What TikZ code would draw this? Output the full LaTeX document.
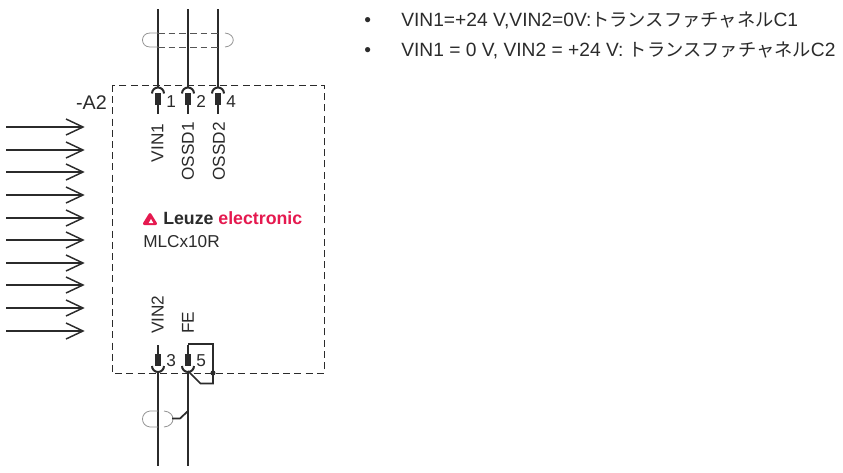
\documentclass[tikz,border=0pt]{standalone}
\usepackage{fontspec}
\setmainfont{Liberation Sans}
\newfontfamily\cjk{Noto Sans CJK JP}
\definecolor{ink}{HTML}{2B2B2B}
\definecolor{leuze}{HTML}{E5194F}
\tikzset{
  x=0.75pt,y=-0.75pt,
  wire/.style={draw=ink,line width=1.5pt},
  thinw/.style={draw=ink,line width=1.3pt},
  dashb/.style={draw=ink,line width=0.6pt,dash pattern=on 5.2pt off 3.2pt},
  shield/.style={draw=ink!80,line width=0.7pt,dash pattern=on 5pt off 3pt},
  shieldarc/.style={draw=ink!50,line width=0.6pt},
  pinbody/.style={fill=ink,draw=none,minimum width=4.6pt,minimum height=8.6pt,inner sep=0pt},
  lab/.style={font=\fontsize{12.9pt}{15pt}\selectfont,text=ink,inner sep=0pt},
  note/.style={font=\fontsize{14.4pt}{17pt}\selectfont,text=ink,inner sep=0pt,anchor=base west},
  ray/.style={draw=ink,line width=1.1pt},
}
\begin{document}
\begin{tikzpicture}
\useasboundingbox (0,0) rectangle (843,472);
\fill[white] (0,0) rectangle (843,472);
% housing
\coordinate (boxnw) at (112,85);
\coordinate (boxse) at (324,373);
\draw[dashb] (boxnw) rectangle (boxse);
% top terminals
\foreach \n/\x/\t in {a/158/1,b/188/2,c/218/4}{
  \coordinate (top\n) at (\x,9);
  \node[pinbody] (pin\n) at (\x,99) {};
  \coordinate (stub\n) at (\x,114);
  \draw[wire] (top\n) -- (\x,87);
  \draw[wire] (pin\n.south) -- (stub\n);
  \draw[wire] (\x-6,93.5) arc[start angle=180,end angle=360,radius=6];
  \node[lab,anchor=west] (num\n) at (\x+8,101.5) {\t};
}
% top shield
\coordinate (sl1) at (158,33); \coordinate (sl2) at (158,47);
\coordinate (sr1) at (218,33); \coordinate (sr2) at (218,47);
\draw[shield] (sl1) -- (sr1);
\draw[shield] (sl2) -- (sr2);
\draw[shieldarc] (sl1) -- (150,33) .. controls (140,33) and (140,47) .. (150,47) -- (sl2);
\draw[shieldarc] (225,33) .. controls (236,34) and (236,46) .. (225,47);
% vertical labels
\node[lab,rotate=90,anchor=east] (lv1) at (157.5,123.5) {VIN1};
\node[lab,rotate=90,anchor=east] (lo1) at (188,122) {OSSD1};
\node[lab,rotate=90,anchor=east] (lo2) at (219,122) {OSSD2};
\node[lab,rotate=90,anchor=west] (lv2) at (157.5,334) {VIN2};
\node[lab,rotate=90,anchor=west] (lfe) at (188,334) {FE};
\node[anchor=east,inner sep=0pt,text=ink,font=\fontsize{14.8pt}{17pt}\selectfont] (a2) at (107,103) {-A2};
% logo
\draw[leuze,line width=2.1pt,line join=round,fill=leuze] (150,214.5) -- (155.6,223.6) -- (144.4,223.6) -- cycle;
\fill[white] (151,219) -- (153.4,223.2) -- (148.6,223.2) -- cycle;
\node[inner sep=0pt,anchor=base west,font=\fontsize{13.3pt}{15pt}\selectfont] (logo) at (163,224.5) {\textbf{\textcolor{ink}{Leuze}} \textcolor{leuze}{\textbf{electronic}}};
\node[lab,anchor=base west] (model) at (143,247) {MLCx10R};
% bottom terminals
\foreach \n/\x/\t in {d/158/3,e/188/5}{
  \coordinate (bot\n) at (\x,466);
  \node[pinbody] (pin\n) at (\x,360) {};
  \draw[wire] (\x,345) -- (pin\n.north);
  \draw[wire] (\x-6,366) arc[start angle=180,end angle=0,radius=6];
  \draw[wire] (\x,372) -- (bot\n);
  \node[lab,anchor=west] (num\n) at (\x+8,360.5) {\t};
}
% FE loop
\coordinate (lp1) at (188,344);
\coordinate (lp2) at (213,344);
\coordinate (lp3) at (213,383.5);
\coordinate (lp4) at (200.5,383.5);
\coordinate (lp5) at (188,371);
\draw[thinw,line join=miter] (lp1) -- (lp2) -- (lp3) -- (lp4) -- (lp5);
\fill[ink] (213,373) circle (1.9pt);
% bottom shield
\draw[shieldarc] (158,411) -- (150,411) .. controls (140,412) and (140,426) .. (150,427) -- (158,427);
\draw[shieldarc] (164,411) .. controls (176,412) and (176,426) .. (164,427);
\coordinate (sh1) at (172,418.5);
\coordinate (sh2) at (180,418.5);
\coordinate (sh3) at (188,411);
\draw[thinw] (sh1) -- (sh2) -- (sh3);
% rays
\foreach \y in {127,150,172,195,218,240,263,285,308,331}{
  \coordinate (rs\y) at (6,\y);
  \coordinate (re\y) at (83,\y);
  \draw[ray] (rs\y) -- (re\y);
  \draw[ray,line join=miter] (66,\y-8) -- (re\y) -- (66,\y+8);
}
% notes
\newcommand{\jp}[1]{{\cjk\fontsize{13.7pt}{17pt}\selectfont #1}}
\node[note] (b1) at (364,26) {•};
\node[note] (t1) at (401,26) {VIN1=+24 V,VIN2=0V:\jp{トランスファチャネル}C1};
\node[note] (b2) at (364,56) {•};
\node[note] (t2) at (401,56) {VIN1 = 0 V, VIN2 = +24 V: \jp{トランスファチャネル}C2};
\end{tikzpicture}
\end{document}
